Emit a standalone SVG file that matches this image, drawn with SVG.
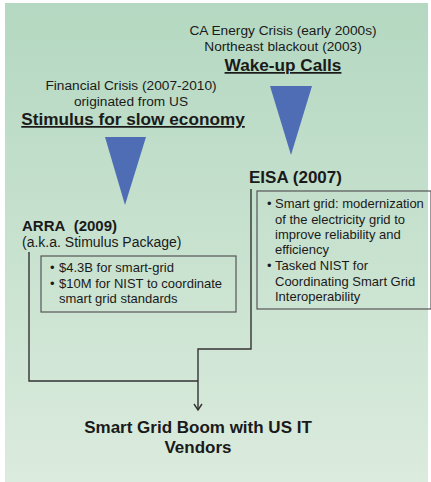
<svg xmlns="http://www.w3.org/2000/svg" width="431" height="482" viewBox="0 0 431 482">
<style>
.t{font-family:"Liberation Sans",Arial,sans-serif;fill:#1a1a1a}
.n{font-size:13.7px}
.h{font-size:17.2px;font-weight:bold;text-decoration:underline}
.b{font-size:17px;font-weight:bold}
.s{font-size:13px}
.box{fill:none;stroke:#555;stroke-width:1.2}
.ln{fill:none;stroke:#333;stroke-width:1.4}
.tri{fill:#4f6db4}
</style>
<defs>
<linearGradient id="bg" x1="0" y1="0" x2="0" y2="1">
<stop offset="0" stop-color="#b4d8c1"/>
<stop offset="1" stop-color="#dbebdd"/>
</linearGradient>
<marker id="arr" markerWidth="10" markerHeight="10" refX="8" refY="5" orient="auto" markerUnits="userSpaceOnUse" viewBox="0 0 10 10">
<path d="M2,1 L8,5 L2,9" fill="none" stroke="#333" stroke-width="1.4"/>
</marker>
</defs>
<rect x="0" y="0" width="431" height="482" fill="#ffffff"/>
<rect x="5" y="3" width="423" height="479" fill="url(#bg)"/>

<g id="wakeup">
<text class="t n" x="283" y="35" text-anchor="middle">CA Energy Crisis (early 2000s)</text>
<text class="t n" x="283" y="51" text-anchor="middle">Northeast blackout (2003)</text>
<text class="t h" x="283" y="71" text-anchor="middle">Wake-up Calls</text>
<polygon class="tri" points="270,86 312,86 291,155"/>
</g>

<g id="stimulus">
<text class="t n" x="131" y="90" text-anchor="middle">Financial Crisis (2007-2010)</text>
<text class="t n" x="131" y="106" text-anchor="middle">originated from US</text>
<text class="t h" x="133" y="125" text-anchor="middle">Stimulus for slow economy</text>
<polygon class="tri" points="105,137 146,137 125,205"/>
</g>

<g id="eisa">
<text class="t b" x="249" y="183">EISA (2007)</text>
<rect class="box" x="257" y="191" width="174" height="118"/>
<text class="t s" x="267" y="208">•</text>
<text class="t s" x="275" y="208">Smart grid: modernization</text>
<text class="t s" x="275" y="224">of the electricity grid to</text>
<text class="t s" x="275" y="239">improve reliability and</text>
<text class="t s" x="275" y="254">efficiency</text>
<text class="t s" x="267" y="270">•</text>
<text class="t s" x="275" y="270">Tasked NIST for</text>
<text class="t s" x="275" y="286">Coordinating Smart Grid</text>
<text class="t s" x="275" y="301">Interoperability</text>
</g>

<g id="arra">
<text class="t b" x="22" y="231" style="font-size:15px">ARRA&#160; (2009)</text>
<text class="t" x="22" y="247" style="font-size:14px">(a.k.a. Stimulus Package)</text>
<rect class="box" x="41" y="256" width="195" height="56"/>
<text class="t s" x="50" y="272">•</text>
<text class="t s" x="59" y="272">$4.3B for smart-grid</text>
<text class="t s" x="50" y="288">•</text>
<text class="t s" x="59" y="288">$10M for NIST to coordinate</text>
<text class="t s" x="59" y="303">smart grid standards</text>
</g>

<g id="boom">
<text class="t b" x="198" y="433" text-anchor="middle">Smart Grid Boom with US IT</text>
<text class="t b" x="198" y="453" text-anchor="middle">Vendors</text>
</g>

<g id="connectors">
<polyline class="ln" points="251,189 251,349 198,349 198,410" marker-end="url(#arr)"/>
<polyline class="ln" points="29,252 29,381 198,381"/>
</g>
</svg>
